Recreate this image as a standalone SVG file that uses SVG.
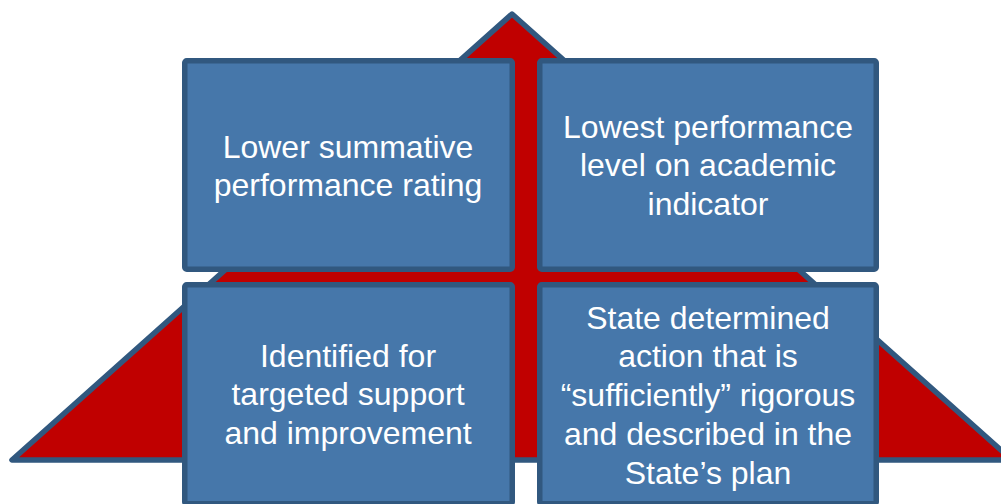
<svg xmlns="http://www.w3.org/2000/svg" width="1001" height="504" viewBox="0 0 1001 504">
<style>
.box{fill:#4677AA;stroke:#31587F;stroke-width:5.5}
.tri{fill:#C00000;stroke:#31587F;stroke-width:5.5;stroke-linejoin:round}
.lbl{font-family:"Liberation Sans",Arial,sans-serif;font-size:32px;fill:#FFFFFF;text-anchor:middle}
</style>
<rect width="1001" height="504" fill="#FFFFFF"/>
<g id="triangle">
<polygon class="tri" points="512,14 12,460 1012,460"/>
</g>
<g id="connectors"></g>
<g id="node-top-left">
<rect class="box" x="184.75" y="60.75" width="327.5" height="208.5" rx="2"/>
<text class="lbl" x="348" y="157.5"><tspan x="348">Lower summative</tspan><tspan x="348" y="196">performance rating</tspan></text>
</g>
<g id="node-top-right">
<rect class="box" x="539.75" y="60.75" width="336.5" height="208.5" rx="2"/>
<text class="lbl" x="708" y="138"><tspan x="708">Lowest performance</tspan><tspan x="708" y="176.3">level on academic</tspan><tspan x="708" y="214.5">indicator</tspan></text>
</g>
<g id="node-bottom-left">
<rect class="box" x="184.75" y="284.75" width="327.5" height="219" rx="2"/>
<text class="lbl" x="348" y="367"><tspan x="348">Identified for</tspan><tspan x="348" y="405.3">targeted support</tspan><tspan x="348" y="443.6">and improvement</tspan></text>
</g>
<g id="node-bottom-right">
<rect class="box" x="539.75" y="284.75" width="336.5" height="219" rx="2"/>
<text class="lbl" x="708" y="328.5"><tspan x="708">State determined</tspan><tspan x="708" y="367.3">action that is</tspan><tspan x="708" y="406.1">“sufficiently” rigorous</tspan><tspan x="708" y="444.9">and described in the</tspan><tspan x="708" y="483.7">State’s plan</tspan></text>
</g>
</svg>
